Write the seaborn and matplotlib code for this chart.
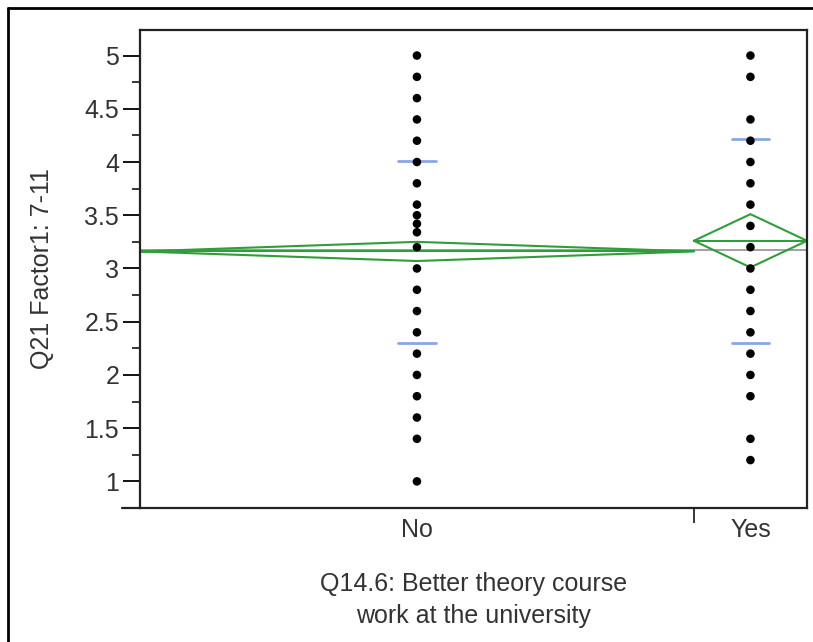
import numpy as np
import pandas as pd
import seaborn as sns
import matplotlib.pyplot as plt
from matplotlib.lines import Line2D

no_vals = [5.0, 4.8, 4.6, 4.4, 4.2, 4.0, 3.8, 3.6, 3.5, 3.42, 3.34, 3.2,
           3.0, 2.8, 2.6, 2.4, 2.2, 2.0, 1.8, 1.6, 1.4, 1.0]
yes_vals = [5.0, 4.8, 4.4, 4.2, 4.0, 3.8, 3.6, 3.4, 3.2, 3.0, 2.8, 2.6,
            2.4, 2.2, 2.0, 1.8, 1.4, 1.2]

groups = ["No", "Yes"]
group_n = [235, 48]            # group sizes -> proportional widths
group_mean = [3.16, 3.26]
group_ci = [0.09, 0.25]        # half width of the 95% means diamond
sd_upper = [4.01, 4.22]
sd_lower = [2.30, 2.30]
grand_mean = 3.175

# group extents on the x axis (JMP style, width proportional to n)
edges = np.concatenate([[0], np.cumsum(group_n)])
centers = (edges[:-1] + edges[1:]) / 2

df = pd.concat([
    pd.DataFrame({"x": centers[0], "y": no_vals}),
    pd.DataFrame({"x": centers[1], "y": yes_vals}),
])

sns.set_style("ticks")
plt.rcParams['font.family'] = ['Liberation Sans', 'DejaVu Sans']

fig = plt.figure(figsize=(8.13, 6.42), dpi=100)
ax = fig.add_axes([140 / 813, 1 - 508 / 642, 667 / 813, 478 / 642])

green = "#2f9e3a"
ax.axhline(grand_mean, color="#9a9a9a", lw=1.3, zorder=1)

for i in range(len(groups)):
    x0, x1, xc = edges[i], edges[i + 1], centers[i]
    m, h = group_mean[i], group_ci[i]
    ax.plot([x0, xc, x1, xc, x0], [m, m + h, m, m - h, m],
            color=green, lw=1.5, zorder=2)
    ax.plot([x0, x1], [m, m], color=green, lw=1.5, zorder=2)
    half = 0.028 * edges[-1]
    for v in (sd_upper[i], sd_lower[i]):
        ax.plot([xc - half, xc + half], [v, v], color="#8aa6e6", lw=2, zorder=2)

sns.scatterplot(data=df, x="x", y="y", color="black", s=38, edgecolor="none",
                ax=ax, zorder=3)

ax.set_xlim(edges[0], edges[-1])
ax.set_ylim(0.76, 5.24)
ax.set_yticks(np.arange(1, 5.01, 0.5))
ax.set_yticklabels(["1", "1.5", "2", "2.5", "3", "3.5", "4", "4.5", "5"])
ax.set_yticks(np.arange(0.75, 5.01, 0.25), minor=True)
ax.tick_params(axis="y", which="major", length=12, width=1.3, labelsize=18,
               colors="black", labelcolor="#333333", pad=3)
ax.tick_params(axis="y", which="minor", length=6, width=1.3)

ax.set_xticks(centers)
ax.set_xticklabels(groups)
ax.set_xticks(edges[1:-1], minor=True)
ax.tick_params(axis="x", which="major", length=0, labelsize=18,
               labelcolor="#333333", pad=7)
ax.tick_params(axis="x", which="minor", length=11, width=1.3)

for s in ax.spines.values():
    s.set_visible(True)
    s.set_linewidth(1.6)
    s.set_color("#222222")

ax.plot([-0.027, 0], [0, 0], transform=ax.transAxes, color="#222222",
        lw=1.6, clip_on=False)

ax.set_xlabel("Q14.6: Better theory course\nwork at the university",
              fontsize=18, color="#333333", labelpad=22, linespacing=1.4)
ax.set_ylabel("Q21 Factor1: 7-11", fontsize=18, color="#333333", labelpad=22)

# outer frame of the report panel
fig.add_artist(Line2D([8 / 813, 1], [1 - 8 / 642, 1 - 8 / 642], color="black", lw=2))
fig.add_artist(Line2D([8 / 813, 8 / 813], [0, 1 - 8 / 642], color="black", lw=2))

fig.savefig("out.png", dpi=100)
